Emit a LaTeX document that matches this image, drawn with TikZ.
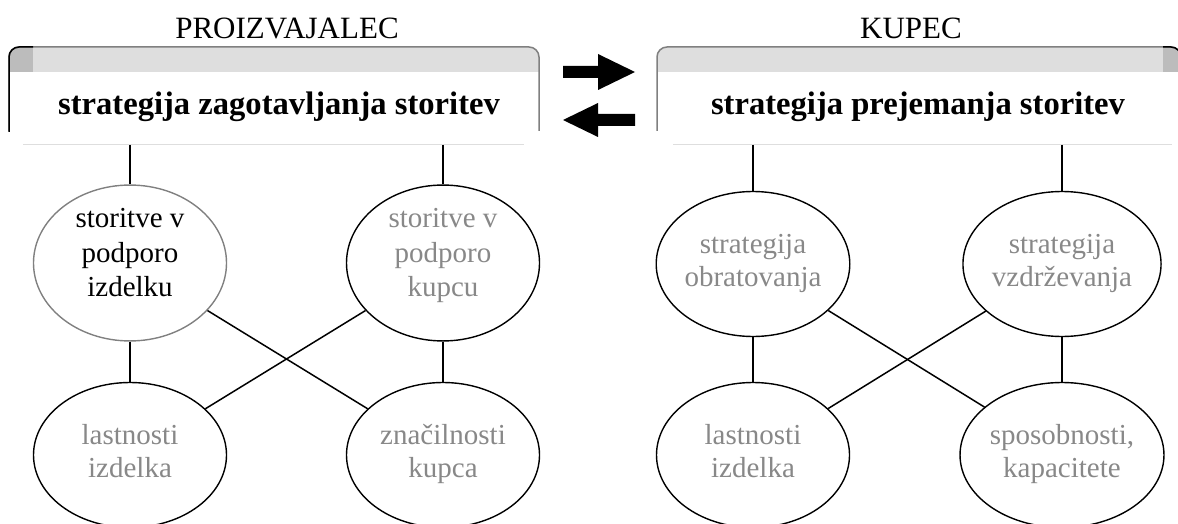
\documentclass[tikz,border=0pt]{standalone}
\usepackage{fontspec}
\setmainfont{Liberation Serif}
\usetikzlibrary{shapes.geometric}
\definecolor{txtgray}{RGB}{136,136,136}
\definecolor{bandgray}{RGB}{222,222,222}
\definecolor{darkband}{RGB}{188,188,188}
\definecolor{edgegray}{RGB}{128,128,128}
\definecolor{sepgray}{RGB}{222,222,222}
% line struts for the ellipse labels
\newcommand\lineA[1]{\rule[-13pt]{0pt}{33pt}#1}% three-line labels, upper lines
\newcommand\lineZ[1]{\rule[-22pt]{0pt}{42pt}#1}% three-line labels, last line
\newcommand\lineB[1]{\rule[-10pt]{0pt}{32pt}#1}% two-line labels
\tikzset{
  oval/.style={ellipse, draw=black, line width=1.4pt, minimum width=193pt, minimum height=145pt,
    inner sep=0pt, align=center, text=txtgray, font=\fontsize{29}{33}\selectfont},
  conn/.style={draw=black, line width=1.5pt},
  header/.style={anchor=base, inner sep=0pt, font=\fontsize{31}{33}\selectfont},
  titletext/.style={anchor=base, inner sep=0pt, font=\bfseries\fontsize{32.6}{35}\selectfont},
  sep/.style={draw=sepgray, line width=1pt},
  blockarrow/.style={fill=black}
}
\begin{document}
\begin{tikzpicture}[x=1pt,y=-1pt]
\useasboundingbox (0,0) rectangle (1178,524);
\clip (0,0) rectangle (1178,524);

% ---- left panel ----
\begin{scope}
  \clip[rounded corners=10pt] (9,47) rectangle (539,90);
  \fill[bandgray] (9,47) rectangle (539,72);
  \fill[darkband] (9,47) rectangle (33,72);
\end{scope}
\draw[edgegray, line width=1.5pt, rounded corners=10pt] (9,131) -- (9,47) -- (539,47) -- (539,131);
\draw[black, line width=1.5pt, rounded corners=10pt] (9,132) -- (9,47) -- (33,47);
\draw[sep] (23,145) -- (524,145);

% ---- right panel ----
\begin{scope}
  \clip[rounded corners=10pt] (657,47) rectangle (1181,90);
  \fill[bandgray] (657,47) rectangle (1181,72);
  \fill[darkband] (1163,47) rectangle (1181,72);
\end{scope}
\draw[edgegray, line width=1.5pt, rounded corners=10pt] (657,131) -- (657,47) -- (1181,47) -- (1181,131);
\draw[black, line width=1.5pt, rounded corners=10pt] (1163,47) -- (1181,47) -- (1181,132);
\draw[sep] (673,145) -- (1172,145);

% ---- headers and titles ----
\node[header] (hprod) at (287,39) {PROIZVAJALEC};
\node[header] (hcust) at (911,39) {KUPEC};
\node[titletext] (tprod) at (279,115) {strategija zagotavljanja storitev};
\node[titletext] (tcust) at (918,115) {strategija prejemanja storitev};

% ---- block arrows ----
\fill[blockarrow] (563,66) -- (598,66) -- (598,54) -- (635,72) -- (598,90) -- (598,78) -- (563,78) -- cycle;
\fill[blockarrow] (635,114) -- (598,114) -- (598,103) -- (563,120) -- (598,137) -- (598,126) -- (635,126) -- cycle;

% ---- left ellipses ----
\node[oval, draw=edgegray, text=black] (la) at (130,263) {\lineA{storitve v}\\\lineA{podporo}\\\lineZ{izdelku}};
\node[oval] (lb) at (443,263) {\lineA{storitve v}\\\lineA{podporo}\\\lineZ{kupcu}};
\node[oval] (lc) at (130,455) {\lineB{lastnosti}\\\lineB{izdelka}};
\node[oval] (ld) at (443,455) {\lineB{značilnosti}\\\lineB{kupca}};

% ---- right ellipses ----
\node[oval] (ra) at (753,264) {\lineB{strategija}\\\lineB{obratovanja}};
\node[oval] (rb) at (1062,264) {\lineB{strategija}\\\lineB{vzdrževanja}};
\node[oval] (rc) at (753,455) {\lineB{lastnosti}\\\lineB{izdelka}};
\node[oval] (rd) at (1062,455) {\lineB{sposobnosti,}\\\lineB{kapacitete}};

% ---- connector start points on the panels ----
\coordinate (pla) at (130,145);
\coordinate (plb) at (443,145);
\coordinate (pra) at (753,145);
\coordinate (prb) at (1062,145);

% ---- connectors ----
\draw[conn] (pla) -- (la.north);
\draw[conn] (plb) -- (lb.north);
\draw[conn] (pra) -- (ra.north);
\draw[conn] (prb) -- (rb.north);
\draw[conn] (la) -- (lc);
\draw[conn] (lb) -- (ld);
\draw[conn] (la) -- (ld);
\draw[conn] (lb) -- (lc);
\draw[conn] (ra) -- (rc);
\draw[conn] (rb) -- (rd);
\draw[conn] (ra) -- (rd);
\draw[conn] (rb) -- (rc);
\end{tikzpicture}
\end{document}
